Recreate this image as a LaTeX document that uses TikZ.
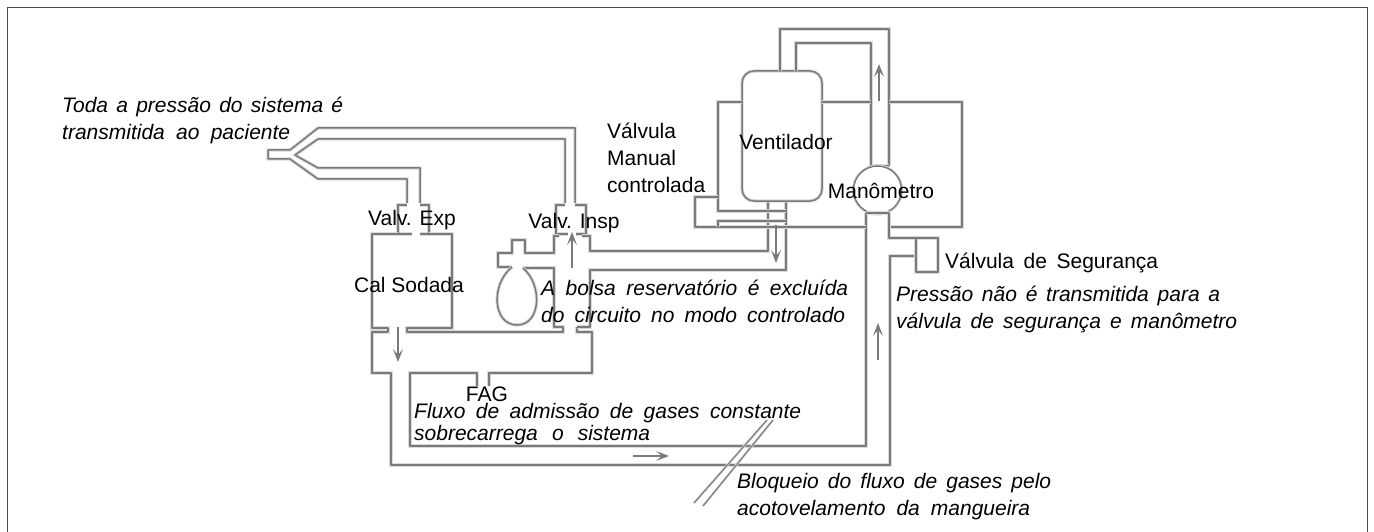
\documentclass[tikz,border=0pt]{standalone}
\usepackage{fontspec}
\setmainfont{Liberation Sans}
\usetikzlibrary{arrows.meta}
\definecolor{pipecol}{HTML}{7A7A7A}
\definecolor{halo}{HTML}{DADADA}
\newcommand{\notefont}{\fontsize{21}{27}\selectfont\itshape\spaceskip 6pt plus 40pt minus 1pt\relax}
\newcommand{\tightnote}{\fontsize{21}{22}\selectfont\itshape\spaceskip 6pt plus 40pt minus 1pt\relax}
\newcommand{\fitline}[2]{\hbox to #1pt{#2}}
\tikzset{
  x=1pt,y=-1pt,
  pipe/.style={draw=pipecol,line width=1.5pt,line join=round,preaction={draw=halo,line width=3.4pt}},
  flow/.style={draw=pipecol,line width=1.4pt,-{Stealth[length=13pt,width=10pt,inset=6pt]}},
  kink/.style={draw=pipecol,line width=1.1pt,preaction={draw=halo,line width=2.5pt}},
  framebox/.style={draw=black!70,line width=1.8pt},
  lab/.style={font=\fontsize{21}{27}\selectfont,text=black,inner sep=0pt,align=left},
  note/.style={font=\notefont,text=black,inner sep=0pt,align=left,anchor=west},
}
\begin{document}
\begin{tikzpicture}
\useasboundingbox (0,0) rectangle (1374,532);
\clip (0,0) rectangle (1374,532);
\fill[white] (0,0) rectangle (1374,532);
% frame (open at the foot)
\draw[framebox] (7.5,540) -- (7.5,7.5) -- (1367.5,7.5) -- (1367.5,540);
% patient Y-piece
\draw[pipe] (407,203) -- (407,179) -- (318,179) -- (290,159) -- (268,159) -- (268,150) -- (290,150) -- (318,128) -- (575,128) -- (575,203);
\draw[pipe] (565,203) -- (565,139) -- (318,139) -- (295,155) -- (318,168) -- (420,168) -- (420,203);
% expiratory valve
\draw[pipe] (407,205) -- (398,205) -- (398,234) -- (412,234);
\draw[pipe] (420,205) -- (429,205) -- (429,234) -- (420,234);
% soda lime box
\draw[pipe] (398,234) -- (372,234) -- (372,328) -- (388,328) -- (388,332) -- (372,332) -- (372,373) -- (391,373) -- (391,465) -- (890,465) -- (890,256) -- (916,256);
\draw[pipe] (429,234) -- (452,234) -- (452,328) -- (407,328) -- (407,332) -- (563,332) -- (563,327) -- (554,327) -- (554,268) -- (523,268);
% lower connection and FAG
\draw[pipe] (577,327) -- (577,332) -- (592,332) -- (592,373) -- (489,373) -- (489,386);
\draw[pipe] (477,386) -- (477,373) -- (410,373) -- (410,446) -- (866,446) -- (866,213);
% inspiratory valve
\draw[pipe] (565,205) -- (556,205) -- (556,234) -- (568,234);
\draw[pipe] (575,205) -- (586,205) -- (586,234) -- (576,234);
% reservoir bag branch
\draw[pipe] (559,236) -- (554,236) -- (554,253) -- (525,253) -- (525,240) -- (512,240) -- (512,253) -- (498,253) -- (498,267) -- (512,267);
\draw[pipe] (512,267) .. controls (490,285) and (493,325) .. (517,325) .. controls (541,325) and (543,285) .. (523,268);
\draw[pipe] (582,236) -- (590,236) -- (590,251) -- (768,251) -- (768,201);
\draw[pipe] (577,327) -- (590,327) -- (590,270) -- (786,270) -- (786,201);
% ventilator
\draw[pipe,rounded corners=12pt] (742,71) rectangle (822,201);
\draw[pipe] (780,71) -- (780,29) -- (889,29) -- (889,166);
\draw[pipe] (796,71) -- (796,43) -- (871,43) -- (871,166) -- (889,166);
% manual valve loop
\draw[pipe] (742,102) -- (718,102) -- (718,211) -- (786,211);
\draw[pipe] (718,197) -- (695,197) -- (695,227) -- (866,227);
\draw[pipe] (718,227) -- (718,221) -- (786,221);
\draw[pipe] (822,102) -- (871,102);
\draw[pipe] (889,102) -- (962,102) -- (962,227) -- (889,227);
% manometer
\draw[pipe,fill=white] (877.5,190) circle (24);
\draw[pipe] (866,213) -- (889,213) -- (889,238) -- (938,238) -- (938,272) -- (916,272) -- (916,238);
% kink
\draw[kink] (694,503) -- (767,420);
\draw[kink] (703,506) -- (773,420);
% flow arrows
\draw[flow] (398,327) -- (398,362);
\draw[flow] (572,268) -- (572,232);
\draw[flow] (776,225) -- (776,263);
\draw[flow] (879,101) -- (879,64);
\draw[flow] (878,360) -- (878,323);
\draw[flow] (633,456) -- (669,456);
% labels
\node[note] (n1) at (62,120.5) {\fitline{281}{Toda a pressão do sistema é}\\\fitline{228}{transmitida ao paciente}};
\node[lab,anchor=west] (l1) at (607,158) {Válvula\\Manual\\controlada};
\node[lab] (l2) at (786,142) {Ventilador};
\node[lab] (l3) at (881,191) {Manômetro};
\node[lab] (l4) at (412,220) {Valv. Exp};
\node[lab] (l5) at (574,223) {Valv. Insp};
\node[lab] (l6) at (409,285) {Cal Sodada};
\node[note] (n2) at (541,301) {\fitline{307}{A bolsa reservatório é excluída}\\\fitline{304}{do circuito no modo controlado}};
\node[lab,anchor=west] (l7) at (945,263) {\hbox to 213pt{Válvula\hfill\ de\hfill\ Segurança}};
\node[note] (n3) at (896,309) {\fitline{324}{Pressão não é transmitida para a}\\\fitline{341}{válvula de segurança e manômetro}};
\node[lab] (l8) at (487,394.5) {FAG};
\node[note,font=\tightnote] (n4) at (414,424) {\fitline{387}{Fluxo de admissão de gases constante}\\\fitline{236}{sobrecarrega o sistema}};
\node[note] (n5) at (737,497) {\fitline{314}{Bloqueio do fluxo de gases pelo}\\\fitline{293}{acotovelamento da mangueira}};
\end{tikzpicture}
\end{document}
